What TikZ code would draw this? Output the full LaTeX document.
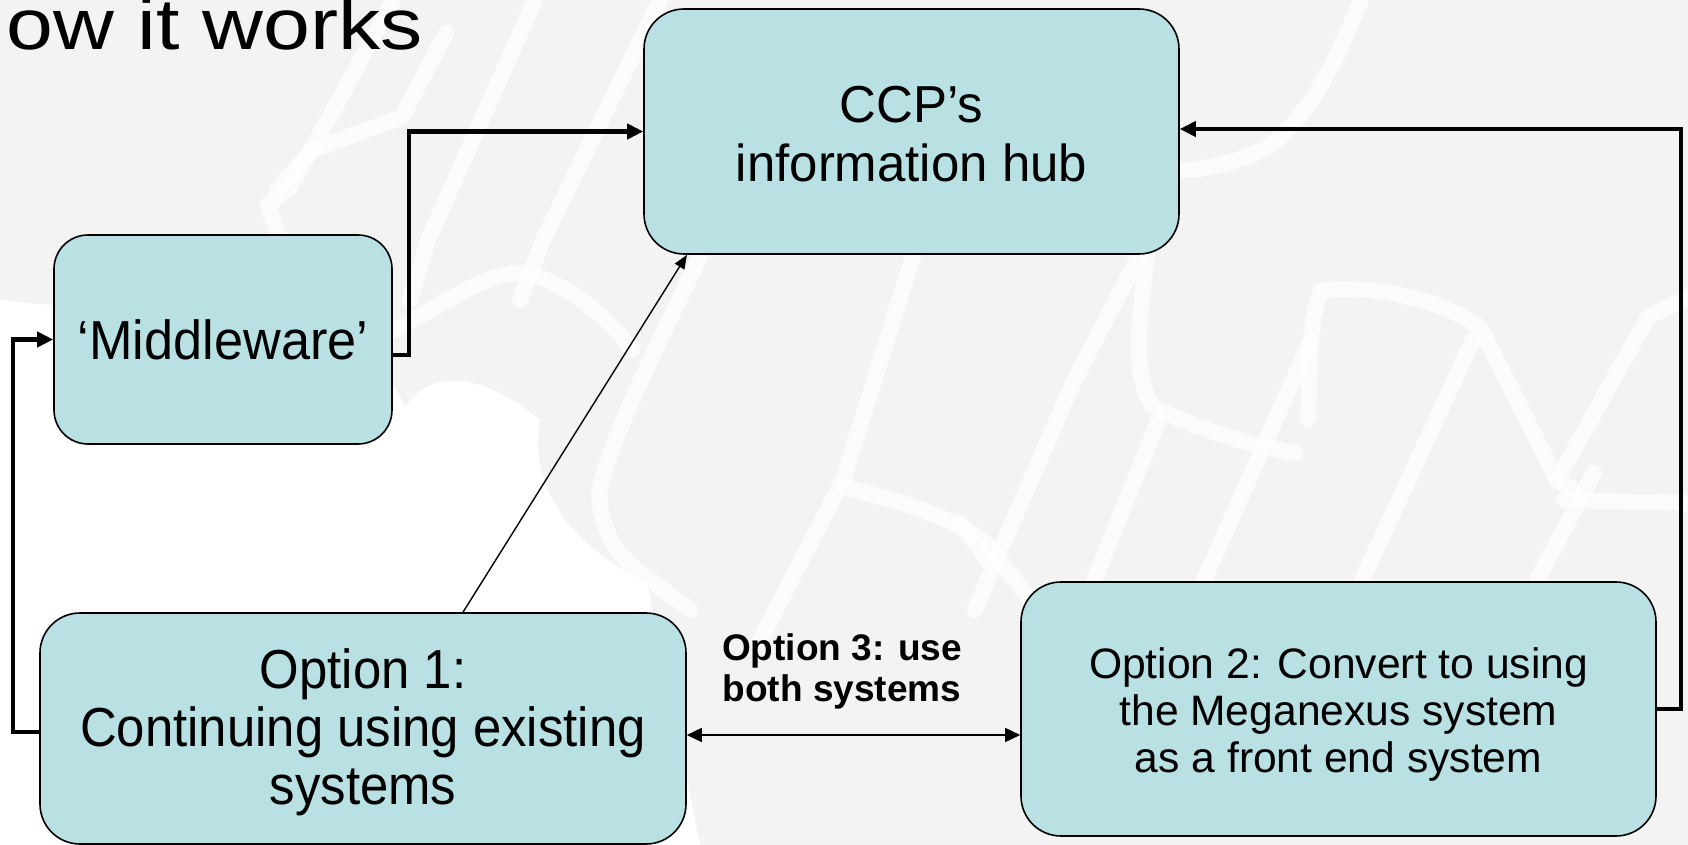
\documentclass[tikz,border=0pt]{standalone}
\usepackage{fontspec}
\setmainfont{Liberation Sans}
\usetikzlibrary{arrows.meta,calc}
\definecolor{bgc}{HTML}{F3F3F3}
\definecolor{boxc}{HTML}{B9E0E3}
\newcommand{\lowerby}[2]{\raisebox{-#1}[\height][\depth]{#2}}
\tikzset{
  box/.style={draw=black, line width=0.8pt, fill=boxc, rounded corners=20pt, inner sep=0pt, align=center},
  thickarrow/.style={line width=2.2pt, -{Triangle[length=8pt,width=7.5pt]}},
  thinarrow/.style={line width=0.7pt, -{Triangle[length=7pt,width=5.5pt]}},
  twoarrow/.style={line width=0.8pt, {Triangle[length=7.5pt,width=7pt]}-{Triangle[length=7.5pt,width=7pt]}},
  bgline/.style={white, line width=8pt, line cap=round, line join=round, opacity=0.7}
}
\begin{document}
\begin{tikzpicture}[x=0.5pt,y=-0.5pt]
\useasboundingbox (0,0) rectangle (1688,845);
\fill[bgc] (0,0) rectangle (1688,845);
% background pattern
\fill[white] (0,300) -- (300,330) .. controls (360,345) and (395,380) .. (405,407)
  .. controls (430,370) and (480,370) .. (540,420) .. controls (530,480) and (560,540) .. (647,583)
  -- (700,845) -- (0,845) -- cycle;
\draw[bgline] (393,0) -- (339,100) -- (290,187) -- (268,205) -- (280,240);
\draw[bgline] (446,33) -- (402,117) -- (312,150) -- (277,190);
\draw[bgline] (535,0) -- (428,240) -- (410,300);
\draw[bgline] (660,0) -- (543,240) -- (520,300);
\draw[bgline] (395,330) .. controls (450,300) and (490,270) .. (527,273) .. controls (570,285) and (610,320) .. (632,350);
\draw[bgline] (700,257) .. controls (650,360) and (610,440) .. (599,493) .. controls (600,530) and (620,560) .. (641,573) -- (690,610);
\draw[bgline] (915,250) -- (843,480) -- (760,640);
\draw[bgline] (843,487) .. controls (900,500) and (960,520) .. (990,547) -- (1030,600);
\draw[bgline] (1140,254) -- (1073,383) -- (993,567) -- (975,610);
\draw[bgline] (960,523) -- (993,567);
\draw[bgline] (1147,254) .. controls (1140,320) and (1130,370) .. (1153,407) .. controls (1200,430) and (1250,445) .. (1295,453);
\draw[bgline] (1160,417) -- (1093,583);
\draw[bgline] (1308,420) .. controls (1310,360) and (1310,310) .. (1322,290) .. controls (1380,285) and (1440,300) .. (1480,327) -- (1557,480) -- (1574,490);
\draw[bgline] (1557,480) -- (1648,317) -- (1688,297);
\draw[bgline] (1564,500) -- (1688,503);
\draw[bgline] (1204,580) -- (1311,340);
\draw[bgline] (1362,580) -- (1473,340);
\draw[bgline] (1537,580) -- (1594,473);
\draw[bgline] (1361,0) .. controls (1340,50) and (1320,100) .. (1277,140) .. controls (1250,160) and (1210,170) .. (1180,170);

\node[anchor=base west, inner sep=0pt] (title) at (6,50) {\scalebox{1.17}[1]{\fontsize{36}{40}\selectfont ow it works}};

\node[box, minimum width=267.5pt, minimum height=122.5pt] (hub) at (911.5,131.5)
  {\lowerby{4.3pt}{\scalebox{0.98}[1]{\fontsize{26}{29.5}\selectfont\begin{tabular}{@{}c@{}}CCP’s\\information hub\end{tabular}}}};
\node[box, rounded corners=17pt, minimum width=169pt, minimum height=104.5pt] (mw) at (223,339.5)
  {\scalebox{0.95}[1]{\fontsize{27.5}{30}\selectfont ‘Middleware’}};
\node[box, minimum width=323pt, minimum height=115.5pt] (o1) at (363,728.5)
  {\lowerby{3.3pt}{\scalebox{0.925}[1]{\fontsize{27.5}{29}\selectfont\begin{tabular}{@{}c@{}}Option 1:\\Continuing using existing\\systems\end{tabular}}}};
\node[box, minimum width=317.5pt, minimum height=127pt] (o2) at (1338.5,709)
  {\lowerby{3.3pt}{\fontsize{21.3}{23.5}\selectfont\begin{tabular}{@{}c@{}}Option 2: Convert to using\\the Meganexus system\\as a front end system\end{tabular}}};
\node[inner sep=0pt] (o3) at (842,673)
  {\fontsize{18.5}{20.5}\selectfont\bfseries\begin{tabular}{@{}c@{}}Option 3: use\\both systems\end{tabular}};

\coordinate (k1) at (409,355);
\coordinate (k2) at (13,732);
\coordinate (k3) at (1681,709);
\coordinate (k4) at (600,735);
\draw[thickarrow] (mw.east |- k1) -- (k1) |- (hub.west);
\draw[thickarrow] (o1.west |- k2) -- (k2) |- (mw.west);
\draw[thickarrow] (o2.east) -- (k3) |- ([yshift=1.25pt]hub.east);
\draw[thinarrow] ([xshift=50pt]o1.north) -- ([xshift=-112.25pt]hub.south);
\draw[twoarrow] (o1.east |- k4) -- (o2.west |- k4);
\end{tikzpicture}
\end{document}
